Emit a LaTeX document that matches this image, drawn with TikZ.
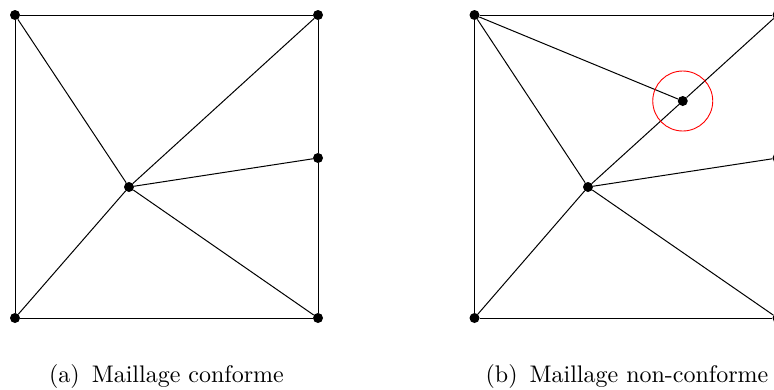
\documentclass[tikz,border=0pt]{standalone}
\begin{document}
\begin{tikzpicture}[x=1pt,y=-1pt,
  dot/.style={circle,fill=black,inner sep=0pt,minimum size=10pt},
  edge/.style={line width=1pt},
  captext/.style={anchor=base,inner sep=0pt}]
\useasboundingbox (0,0) rectangle (774,389);
% (a) conforming mesh
\node[dot] (a1) at (15,15) {};
\node[dot] (a2) at (318,15) {};
\node[dot] (a3) at (318,318) {};
\node[dot] (a4) at (15,318) {};
\node[dot] (a5) at (318,158) {};
\node[dot] (ac) at (129,187) {};
\draw[edge] (a1) -- (a2) -- (a5) -- (a3) -- (a4) -- (a1);
\draw[edge] (ac) -- (a1);
\draw[edge] (ac) -- (a2);
\draw[edge] (ac) -- (a3);
\draw[edge] (ac) -- (a4);
\draw[edge] (ac) -- (a5);
% (b) non-conforming mesh
\node[dot] (b1) at (474.5,15) {};
\node[dot] (b2) at (777.5,15) {};
\node[dot] (b3) at (777.5,318) {};
\node[dot] (b4) at (474.5,318) {};
\node[dot] (b5) at (777.5,158) {};
\node[dot] (bc) at (588,187) {};
\node[dot] (bm) at (682.75,101) {};
\draw[edge] (b1) -- (b2) -- (b5) -- (b3) -- (b4) -- (b1);
\draw[edge] (bc) -- (b1);
\draw[edge] (bc) -- (bm);
\draw[edge] (bm) -- (b2);
\draw[edge] (bm) -- (b1);
\draw[edge] (bc) -- (b3);
\draw[edge] (bc) -- (b4);
\draw[edge] (bc) -- (b5);
\node[draw=red,line width=0.9pt,circle,minimum size=60pt,inner sep=0pt] (circ) at (bm) {};
% captions
\node[captext] (capa) at (166.5,382) {\scalebox{2.4}{(a)\hspace{5pt}Maillage conforme}};
\node[captext] (capb) at (627,382) {\scalebox{2.4}{(b)\hspace{5pt}Maillage non-conforme}};
\end{tikzpicture}
\end{document}
